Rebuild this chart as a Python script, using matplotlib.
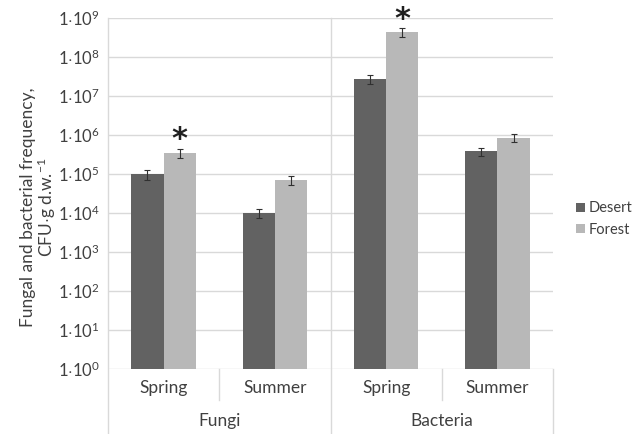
import numpy as np
import matplotlib
matplotlib.use('Agg')
import matplotlib.pyplot as plt
from matplotlib.lines import Line2D

plt.rcParams['font.family'] = ['Lato', 'DejaVu Sans']
plt.rcParams['mathtext.fontset'] = 'custom'
plt.rcParams['mathtext.rm'] = 'Lato'
plt.rcParams['mathtext.it'] = 'Lato:italic'

# 数据
groups = ['Fungi', 'Bacteria']
seasons = ['Spring', 'Summer', 'Spring', 'Summer']
series = ['Desert', 'Forest']
desert = [1.0e5, 1.0e4, 2.7e7, 3.8e5]
forest = [3.5e5, 7.0e4, 4.4e8, 8.5e5]
desert_err = [2.8e4, 2.5e3, 7e6, 9e4]
forest_err = [1.0e5, 1.8e4, 1.1e8, 1.8e5]
star_idx = [0, 2]  # 显著差异
yticks = [10.0 ** k for k in range(0, 10)]
ytick_labels = [r'$1{\cdot}10^{%d}$' % k for k in range(0, 10)]

c_desert = '#626262'
c_forest = '#b8b8b8'
grid_c = '#d9d9d9'
text_c = '#404040'

fig = plt.figure(figsize=(6.41, 4.34), dpi=100)
L, R = 108 / 641, 553 / 641
B, T = 1 - 369 / 434, 1 - 18 / 434
ax = fig.add_axes([L, B, R - L, T - B])

x = np.arange(len(seasons))
w = 0.29
ax.bar(x - w / 2, desert, w, bottom=1, color=c_desert, label='Desert', zorder=3)
ax.bar(x + w / 2, forest, w, bottom=1, color=c_forest, label='Forest', zorder=3)
ax.errorbar(x - w / 2, desert, yerr=desert_err, fmt='none', ecolor='#303030',
            elinewidth=0.8, capsize=2, capthick=0.8, zorder=4)
ax.errorbar(x + w / 2, forest, yerr=forest_err, fmt='none', ecolor='#303030',
            elinewidth=0.8, capsize=2, capthick=0.8, zorder=4)
for i in star_idx:
    ax.text(x[i] + w / 2, (forest[i] + forest_err[i]) * 1.7, '*', ha='center',
            va='center', fontsize=22, fontweight='bold', color='#202020',
            family='DejaVu Sans', clip_on=False)

ax.set_yscale('log')
ax.set_ylim(1, 1e9)
ax.set_xlim(-0.5, len(seasons) - 0.5)
ax.set_yticks(yticks)
ax.set_yticklabels(ytick_labels, fontsize=12, color=text_c)
ax.minorticks_off()
ax.tick_params(axis='y', length=0, pad=6)
ax.set_xticks([])
ax.yaxis.grid(True, color=grid_c, linewidth=1, zorder=0)
for s in ['top', 'right', 'bottom', 'left']:
    ax.spines[s].set_visible(False)

# 分类轴线
def fx(v):
    return L + (v + 0.5) / len(seasons) * (R - L)

y0 = B
fig.add_artist(Line2D([L, L], [0.0, T], color=grid_c, lw=1))
fig.add_artist(Line2D([R, R], [0.0, y0], color=grid_c, lw=1))
fig.add_artist(Line2D([fx(1.5), fx(1.5)], [0.0, T], color=grid_c, lw=1, zorder=0))
for v in [0.5, 2.5]:
    fig.add_artist(Line2D([fx(v), fx(v)], [1 - 400 / 434, y0], color=grid_c, lw=1))
ax.axvline(1.5, color=grid_c, lw=1, zorder=1)

for i, s in enumerate(seasons):
    fig.text(fx(i), 1 - 388 / 434, s, ha='center', va='center', fontsize=12.5, color=text_c)
for g, c in zip(groups, [0.5, 2.5]):
    fig.text(fx(c), 1 - 421 / 434, g, ha='center', va='center', fontsize=12.5, color=text_c)

fig.text(28 / 641, 0.5 + 10 / 434, 'Fungal and bacterial frequency,', rotation=90,
         ha='center', va='center', fontsize=12.5, color=text_c)
fig.text(47 / 641, 0.5 + 10 / 434, r'CFU$\cdot$g d.w.$^{-1}$', rotation=90,
         ha='center', va='center', fontsize=12.5, color=text_c)

fig.legend(loc='center left', bbox_to_anchor=(576 / 641, 1 - 219 / 434), frameon=False,
           fontsize=10.5, handlelength=0.6, handleheight=0.6, handletextpad=0.3,
           labelcolor=text_c, labelspacing=0.5, borderpad=0.0, borderaxespad=0.0)

fig.savefig('out.png', dpi=100)
